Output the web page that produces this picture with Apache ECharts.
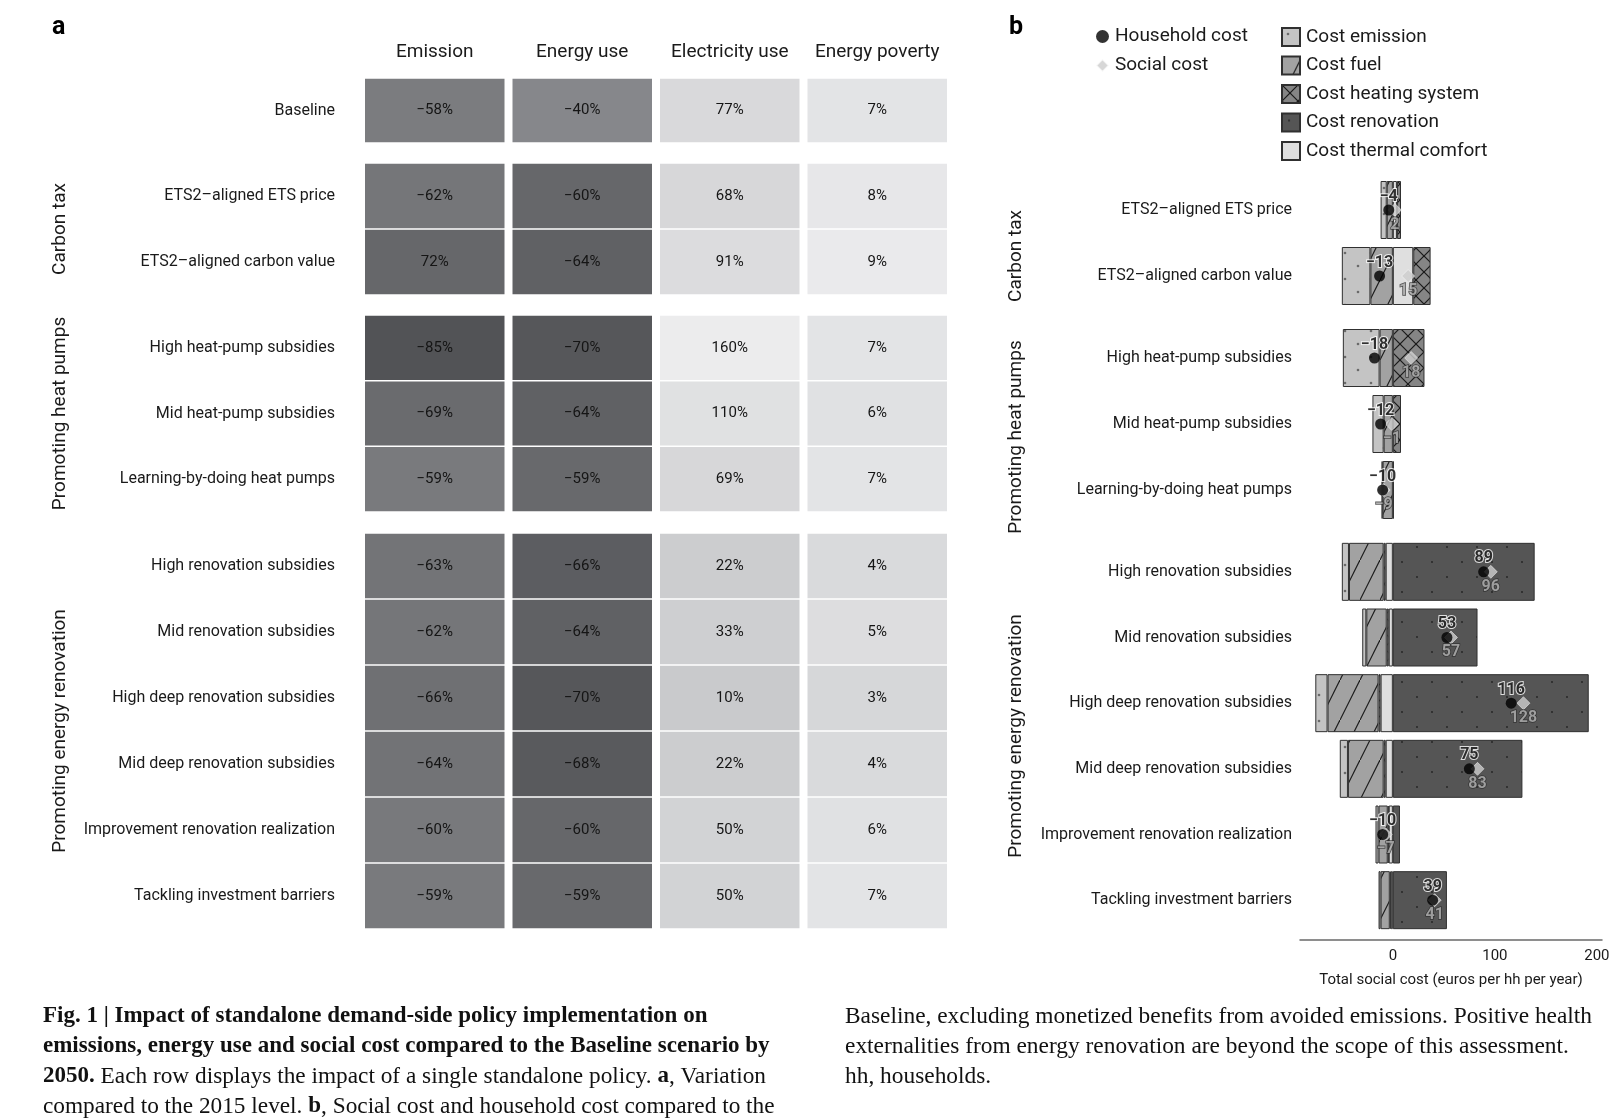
<!DOCTYPE html>
<html><head><meta charset="utf-8">
<script src="https://cdn.jsdelivr.net/npm/echarts@6/dist/echarts.min.js"></script>
<style>html,body{margin:0;padding:0;background:#fff}#c{width:1622px;height:1120px}</style>
</head><body><div id="c"></div>
<script>
// ---------------- Data ----------------
const heatColumns = ['Emission', 'Energy use', 'Electricity use', 'Energy poverty'];
const baselineRows = ['Baseline'];
const carbonRows = ['ETS2–aligned ETS price', 'ETS2–aligned carbon value'];
const heatPumpRows = ['High heat-pump subsidies', 'Mid heat-pump subsidies', 'Learning-by-doing heat pumps'];
const renovationRows = ['High renovation subsidies', 'Mid renovation subsidies', 'High deep renovation subsidies',
  'Mid deep renovation subsidies', 'Improvement renovation realization', 'Tackling investment barriers'];
const groupNames = ['Carbon tax', 'Promoting heat pumps', 'Promoting energy renovation'];

// panel a: variation compared to the 2015 level (%), rows: Baseline + 11 policies
const emissionChange = [-58, -62, 72, -85, -69, -59, -63, -62, -66, -64, -60, -59];
const energyUseChange = [-40, -60, -64, -70, -64, -59, -66, -64, -70, -68, -60, -59];
const electricityUseChange = [77, 68, 91, 160, 110, 69, 22, 33, 10, 22, 50, 50];
const energyPovertyChange = [7, 8, 9, 7, 6, 7, 4, 5, 3, 4, 6, 7];

// panel b: cost components (euros per hh per year), 11 policy rows
const costEmission = [-6, -28, -36, -11, -1, -7, -4, -12, -8, -3, -2];
const costFuel = [-6, -22, -13, -9, -10, -34, -20, -50, -35, -9, -9];
const costHeatingSystem = [4, 17, 31, 8, 1, -2, -2, -2, -2, -1, -1];
const costRenovation = [0, 0, 0, 0, 0, 139, 83, 192, 127, 7, 53];
const costThermalComfort = [4, 20, 0, 0, 0, -7, -4, -12, -7, -4, -2];
const householdCost = [-4, -13, -18, -12, -10, 89, 53, 116, 75, -10, 39];
const socialCost = [2, 15, 18, -1, -9, 96, 57, 128, 83, -7, 41];

const xTickValues = [0, 100, 200];
const xAxisName = 'Total social cost (euros per hh per year)';

const captionLeft = [
  '{b|Fig. 1 | Impact of standalone demand-side policy implementation on}',
  '{b|emissions, energy use and social cost compared to the Baseline scenario by}',
  '{b|2050.}{r| Each row displays the impact of a single standalone policy. }{b|a}{r|, Variation}',
  '{r|compared to the 2015 level. }{b|b}{r|, Social cost and household cost compared to the}'
];
const captionRight = [
  'Baseline, excluding monetized benefits from avoided emissions. Positive health',
  'externalities from energy renovation are beyond the scope of this assessment.',
  'hh, households.'
];

// ---------------- Helpers ----------------
const FONT = 'Roboto';
const fmtNum = v => (v < 0 ? '\u2212' + Math.abs(v) : String(v));
const fmtPct = v => fmtNum(v) + '%';

const shadeScales = [
  { min: -85, max: -58, from: [82, 83, 86], to: [123, 124, 127], abs: true },
  { min: -70, max: -40, from: [86, 87, 90], to: [134, 135, 139] },
  { min: 10, max: 160, from: [201, 202, 204], to: [236, 236, 237] },
  { min: 3, max: 9, from: [214, 215, 217], to: [234, 234, 236] }
];
function shade(col, v) {
  const s = shadeScales[col];
  const val = s.abs ? -Math.abs(v) : v;
  let t = (val - s.min) / (s.max - s.min);
  t = Math.max(0, Math.min(1, t));
  const c = s.from.map((f, i) => Math.round(f + (s.to[i] - f) * t));
  return 'rgb(' + c.join(',') + ')';
}

function makePattern(bg, kind) {
  let w = 20, h = 20;
  if (kind === 'diag') { w = 20; h = 40; }
  if (kind === 'cross') { w = 16; h = 16; }
  if (kind === 'dots') { w = 26; h = 26; }
  if (kind === 'sparse') { w = 30; h = 30; }
  const cv = document.createElement('canvas');
  cv.width = w; cv.height = h;
  const ctx = cv.getContext('2d');
  ctx.fillStyle = bg; ctx.fillRect(0, 0, w, h);
  ctx.strokeStyle = '#1a1a1a'; ctx.lineWidth = 1.2;
  if (kind === 'diag' || kind === 'cross') {
    ctx.beginPath();
    ctx.moveTo(-w, 2 * h); ctx.lineTo(2 * w, -h);
    ctx.stroke();
  }
  if (kind === 'cross') {
    ctx.beginPath();
    ctx.moveTo(-w, -h); ctx.lineTo(2 * w, 2 * h);
    ctx.stroke();
  }
  if (kind === 'dots') {
    ctx.fillStyle = '#6a6a6a';
    [[6, 6], [19, 19]].forEach(p => { ctx.beginPath(); ctx.arc(p[0], p[1], 1.3, 0, Math.PI * 2); ctx.fill(); });
  }
  if (kind === 'sparse') {
    ctx.fillStyle = '#222';
    [[7, 7], [22, 22]].forEach(p => { ctx.beginPath(); ctx.arc(p[0], p[1], 0.9, 0, Math.PI * 2); ctx.fill(); });
  }
  return { image: cv, repeat: 'repeat' };
}

// ---------------- Layout ----------------
const aGroups = [baselineRows, carbonRows, heatPumpRows, renovationRows];
const aGridTops = [78, 163, 315, 533];
const aGridHeights = [65, 132, 197, 396];
const bGroups = [carbonRows, heatPumpRows, renovationRows];
const bGridTops = [177, 325, 539];
const bGridHeights = [132, 198, 394];
const bNameShift = [[0, 26, 0, 0], [0, 26, 0, 0], [0, 0, 0, 0]];

const grids = [], xAxes = [], yAxes = [], series = [];

// ---- Panel a ----
const panelAValues = [emissionChange, energyUseChange, electricityUseChange, energyPovertyChange];
function renderCell(params, api) {
  const col = api.value(0), row = api.value(1), v = api.value(2);
  const c = api.coord([col, row]);
  const s = api.size([1, 1]);
  const w = s[0] - 8, h = s[1] - 1.5;
  return {
    type: 'group', children: [
      { type: 'rect', shape: { x: c[0] - w / 2, y: c[1] - h / 2, width: w, height: h }, style: { fill: shade(col, v) } },
      { type: 'text', x: c[0], y: c[1], style: { text: fmtPct(v), fill: '#151515', font: '15px ' + FONT, align: 'center', verticalAlign: 'middle' } }
    ]
  };
}
let off = 0;
aGroups.forEach((rows, g) => {
  grids.push({ left: 361, width: 590, top: aGridTops[g], height: aGridHeights[g] });
  xAxes.push({
    type: 'category', gridIndex: g, data: heatColumns, position: 'top', show: g === 0,
    axisLine: { show: false }, axisTick: { show: false },
    axisLabel: { interval: 0, fontSize: 19, color: '#1a1a1a', margin: 16, fontFamily: FONT }
  });
  yAxes.push({
    type: 'category', gridIndex: g, data: rows, inverse: true,
    axisLine: { show: false }, axisTick: { show: false },
    axisLabel: { interval: 0, fontSize: 16, color: '#1a1a1a', margin: 26, fontFamily: FONT },
    name: g === 0 ? '' : groupNames[g - 1], nameLocation: 'middle', nameRotate: 90, nameGap: 291,
    nameTextStyle: { fontSize: 19, color: '#1a1a1a', fontFamily: FONT }
  });
  const data = [];
  rows.forEach((r, i) => panelAValues.forEach((arr, c) => data.push([c, i, arr[off + i]])));
  off += rows.length;
  series.push({ type: 'custom', xAxisIndex: g, yAxisIndex: g, renderItem: renderCell, data, encode: { x: 0, y: 1 }, silent: true });
});

// ---- Panel b ----
const barDefs = [
  { name: 'Cost thermal comfort', values: costThermalComfort, color: '#dfdfdf' },
  { name: 'Cost heating system', values: costHeatingSystem, color: makePattern('#858585', 'cross') },
  { name: 'Cost fuel', values: costFuel, color: makePattern('#a2a2a2', 'diag') },
  { name: 'Cost emission', values: costEmission, color: makePattern('#c4c4c4', 'dots') },
  { name: 'Cost renovation', values: costRenovation, color: makePattern('#555555', 'sparse') }
];
off = 0;
bGroups.forEach((rows, k) => {
  const gi = 4 + k;
  const isLast = k === bGroups.length - 1;
  grids.push({ left: 1300, width: 302, top: bGridTops[k], height: bGridHeights[k] });
  xAxes.push({
    type: 'value', gridIndex: gi, min: -91, max: 205, show: isLast, offset: isLast ? 7 : 0,
    splitLine: { show: false }, axisTick: { show: false },
    axisLine: { show: true, lineStyle: { color: '#6a6a6a', width: 1.5 } },
    axisLabel: { customValues: xTickValues, fontSize: 15, color: '#1a1a1a', margin: 9, fontFamily: FONT },
    name: isLast ? xAxisName : '', nameLocation: 'middle', nameGap: 33,
    nameTextStyle: { fontSize: 15, color: '#1a1a1a', fontFamily: FONT }
  });
  yAxes.push({
    type: 'category', gridIndex: gi, data: rows, inverse: true,
    axisLine: { show: false }, axisTick: { show: false },
    axisLabel: { interval: 0, fontSize: 16, color: '#1a1a1a', margin: 8, fontFamily: FONT },
    name: groupNames[k], nameLocation: 'middle', nameRotate: 90, nameGap: 274,
    nameTextStyle: { fontSize: 19, color: '#1a1a1a', fontFamily: FONT, padding: bNameShift[k] }
  });
  const sl = (arr) => arr.slice(off, off + rows.length);
  barDefs.forEach(d => {
    series.push({
      type: 'bar', name: d.name, xAxisIndex: gi, yAxisIndex: gi, stack: 'g' + k, barWidth: 58,
      itemStyle: { color: d.color, borderColor: '#303030', borderWidth: 1 },
      data: sl(d.values).map(v => (v === 0 ? '-' : v)), silent: true
    });
  });
  series.push({
    type: 'scatter', name: 'Social cost', xAxisIndex: gi, yAxisIndex: gi, symbol: 'diamond', symbolSize: 13,
    itemStyle: { color: '#cdcdcd', borderColor: '#ffffff', borderWidth: 0.6 }, z: 5,
    label: { show: true, position: 'bottom', distance: 0, formatter: p => fmtNum(p.value[0]), fontSize: 16, fontWeight: 'bold',
      color: '#b5b5b5', textBorderColor: '#2a2a2a', textBorderWidth: 1.4, fontFamily: FONT },
    data: sl(socialCost).map((v, i) => [v, i]), silent: true
  });
  series.push({
    type: 'scatter', name: 'Household cost', xAxisIndex: gi, yAxisIndex: gi, symbol: 'circle', symbolSize: 11,
    itemStyle: { color: '#000000' }, z: 6,
    label: { show: true, position: 'top', distance: 0, formatter: p => fmtNum(p.value[0]), fontSize: 16, fontWeight: 'bold',
      color: '#000000', textBorderColor: '#ffffff', textBorderWidth: 2, fontFamily: FONT },
    data: sl(householdCost).map((v, i) => [v, i]), silent: true
  });
  off += rows.length;
});

// ---------------- Graphics: panel letters and caption ----------------
const graphic = [
  { type: 'text', left: 52, top: 15, style: { text: 'a', font: 'bold 25px ' + FONT, fill: '#000' } },
  { type: 'text', left: 1009, top: 15, style: { text: 'b', font: 'bold 25px ' + FONT, fill: '#000' } }
];
const capRich = {
  b: { fontFamily: 'Liberation Serif', fontWeight: 'bold', fontSize: 23, fill: '#111' },
  r: { fontFamily: 'Liberation Serif', fontSize: 23.3, fill: '#111' }
};
captionLeft.forEach((line, i) => {
  graphic.push({ type: 'text', left: 43, top: 1005 + i * 30, style: { text: line, rich: capRich, fill: '#111' } });
});
captionRight.forEach((line, i) => {
  graphic.push({ type: 'text', left: 845, top: 1005 + i * 30, style: { text: line, font: '23.4px "Liberation Serif"', fill: '#111' } });
});

const option = {
  animation: false,
  backgroundColor: '#ffffff',
  textStyle: { fontFamily: FONT },
  grid: grids, xAxis: xAxes, yAxis: yAxes, series, graphic,
  legend: [
    {
      orient: 'vertical', left: 1090, top: 22, itemWidth: 13, itemHeight: 13, itemGap: 10, selectedMode: false,
      textStyle: { fontSize: 19, color: '#1a1a1a', fontFamily: FONT, padding: [0, 0, 0, 1] },
      data: [{ name: 'Household cost', icon: 'circle' }, { name: 'Social cost', icon: 'diamond' }]
    },
    {
      orient: 'vertical', left: 1276, top: 22, itemWidth: 18, itemHeight: 18, itemGap: 8.5, selectedMode: false,
      icon: 'rect', textStyle: { fontSize: 19, color: '#1a1a1a', fontFamily: FONT, padding: [0, 0, 0, 1], lineHeight: 18 },
      data: ['Cost emission', 'Cost fuel', 'Cost heating system', 'Cost renovation', 'Cost thermal comfort']
    }
  ]
};
const chart = echarts.init(document.getElementById('c'), null, { renderer: 'canvas' });
chart.setOption(option);
</script></body></html>
